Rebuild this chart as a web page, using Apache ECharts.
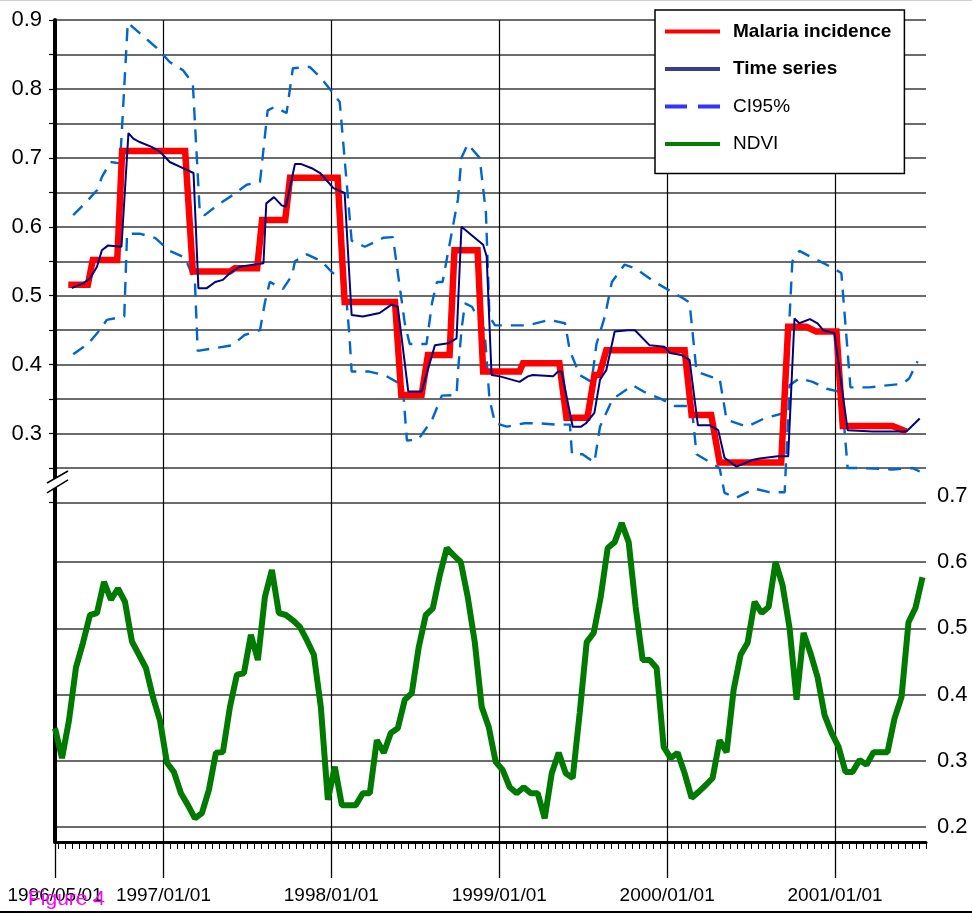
<!DOCTYPE html>
<html>
<head>
<meta charset="utf-8">
<script src="https://cdn.jsdelivr.net/npm/echarts@6/dist/echarts.min.js"></script>
<style>html,body{margin:0;padding:0;background:#fff}#c{width:972px;height:915px}</style>
</head>
<body>
<div id="c"></div>
<script>
// Time unit on the x axis: half-months counted from 1996/05/01 (1997/01/01 = 16, ...)
// NDVI: one value per half-month period, plotted at the middle of each period (k + 0.5)
const ndviValues = [
  0.349,0.304,0.361,0.441,0.478,0.520,0.523,0.570,0.543,0.560,
  0.540,0.480,0.460,0.440,0.396,0.361,0.297,0.283,0.251,0.233,
  0.213,0.221,0.256,0.312,0.313,0.381,0.430,0.432,0.490,0.452,
  0.547,0.588,0.523,0.520,0.512,0.502,0.482,0.460,0.381,0.241,
  0.291,0.233,0.233,0.233,0.251,0.251,0.331,0.312,0.342,0.349,
  0.392,0.402,0.472,0.520,0.530,0.580,0.621,0.610,0.600,0.547,
  0.479,0.381,0.351,0.298,0.286,0.260,0.251,0.260,0.251,0.251,
  0.213,0.281,0.312,0.281,0.274,0.372,0.479,0.493,0.547,0.621,
  0.630,0.659,0.630,0.532,0.452,0.452,0.440,0.321,0.304,0.312,
  0.281,0.244,0.253,0.263,0.274,0.331,0.313,0.407,0.460,0.478,
  0.540,0.523,0.532,0.600,0.565,0.500,0.392,0.493,0.462,0.426,
  0.369,0.342,0.321,0.283,0.283,0.301,0.294,0.313,0.313,0.313,
  0.364,0.396,0.509,0.531,0.577
];

// Malaria incidence (red)
const malariaT = [2.4,5.2,5.9,9.4,10.1,19.1,20.2,25.5,26.2,29.4,30.1,33.4,34.1,40.9,41.9,49.1,50.0,52.9,53.8,56.9,57.6,60.9,61.7,66.9,67.4,72.6,73.6,76.6,77.6,78.3,79.3,90.5,91.5,94.3,95.5,104.3,105.3,107.9,109.3,112.2,113.1,120.2,122.2];
const malariaV = [0.516,0.516,0.552,0.552,0.710,0.710,0.535,0.535,0.540,0.540,0.610,0.610,0.671,0.671,0.491,0.491,0.356,0.356,0.414,0.414,0.566,0.566,0.390,0.390,0.402,0.402,0.323,0.323,0.385,0.385,0.421,0.421,0.327,0.327,0.258,0.258,0.455,0.455,0.448,0.448,0.311,0.311,0.303];

// Time series (navy)
const seriesT = [2.9,4.5,5.5,6.5,7.2,8.1,10.0,11.0,11.7,12.6,14.3,15.5,16.9,18.8,20.3,21.0,22.2,23.4,24.5,25.5,26.9,28.8,30.3,30.7,31.8,32.9,33.5,34.8,35.7,37.2,38.4,40.3,41.9,42.9,44.5,46.9,48.6,49.5,51.0,52.9,54.8,56.7,57.9,58.6,61.7,62.2,62.9,64.1,66.9,68.1,68.8,71.7,72.4,72.9,74.5,75.7,76.4,77.6,78.4,79.3,80.5,82.4,83.4,85.5,87.6,88.4,90.0,91.2,92.4,94.1,95.3,96.2,97.9,100.3,101.2,103.8,105.3,106.2,106.9,108.4,109.5,110.3,111.9,113.8,117.4,122.2,124.1];
const seriesV = [0.511,0.518,0.525,0.542,0.566,0.573,0.571,0.736,0.728,0.723,0.716,0.709,0.694,0.685,0.678,0.511,0.511,0.520,0.523,0.533,0.542,0.545,0.547,0.634,0.643,0.631,0.629,0.691,0.691,0.685,0.678,0.656,0.649,0.472,0.470,0.475,0.487,0.484,0.361,0.361,0.428,0.431,0.438,0.600,0.574,0.557,0.385,0.383,0.375,0.383,0.385,0.383,0.390,0.390,0.310,0.310,0.315,0.330,0.378,0.392,0.448,0.450,0.450,0.428,0.426,0.417,0.414,0.407,0.312,0.312,0.305,0.265,0.252,0.262,0.264,0.267,0.267,0.467,0.460,0.466,0.460,0.450,0.446,0.305,0.303,0.303,0.322];

// CI95% upper and lower bounds (dashed blue)
const ciUpperT = [3.1,4.8,6.5,7.2,8.4,9.8,10.9,13.4,15.1,16.9,18.8,20.2,21.2,21.9,23.8,25.9,27.9,29.8,30.9,31.9,33.6,34.5,36.9,38.4,40.1,41.2,42.9,44.8,47.4,48.8,50.5,51.2,53.6,54.4,55.1,55.9,58.1,58.6,59.5,61.2,62.1,62.6,63.4,68.1,71.2,73.4,74.1,75.5,77.2,77.9,79.1,80.1,81.9,83.4,86.2,90.5,91.2,92.2,94.4,95.5,96.5,99.4,101.9,104.8,105.9,106.9,108.8,110.8,112.9,114.2,116.9,119.4,121.6,122.6,123.8];
const ciUpperV = [0.617,0.634,0.653,0.672,0.694,0.692,0.896,0.874,0.859,0.839,0.827,0.808,0.620,0.617,0.632,0.646,0.661,0.665,0.769,0.774,0.765,0.830,0.832,0.817,0.796,0.781,0.580,0.571,0.584,0.585,0.460,0.430,0.430,0.490,0.520,0.520,0.640,0.700,0.720,0.700,0.620,0.470,0.457,0.457,0.465,0.460,0.420,0.385,0.375,0.430,0.470,0.520,0.545,0.540,0.520,0.495,0.490,0.390,0.382,0.380,0.320,0.310,0.322,0.330,0.550,0.565,0.555,0.545,0.533,0.367,0.367,0.370,0.372,0.380,0.405];
const ciLowerT = [3.1,5.2,6.9,7.9,10.4,10.8,12.6,14.8,16.9,19.1,20.5,20.9,23.4,25.8,27.6,29.8,30.5,31.2,33.1,34.4,34.8,36.5,38.6,40.2,41.9,42.6,42.9,45.4,47.6,50.2,50.5,50.8,52.4,54.4,55.8,57.9,58.1,58.6,59.1,60.1,61.9,62.6,63.4,65.1,67.6,69.5,72.2,74.1,74.4,75.9,77.6,78.4,80.2,83.1,84.8,87.2,89.1,91.5,92.2,95.5,96.2,97.9,100.5,102.6,104.8,105.5,106.9,108.8,110.8,112.9,113.8,115.1,120.2,123.1,124.1];
const ciLowerV = [0.415,0.430,0.450,0.465,0.470,0.590,0.590,0.584,0.565,0.555,0.520,0.420,0.424,0.428,0.443,0.450,0.490,0.520,0.510,0.530,0.550,0.560,0.550,0.533,0.526,0.440,0.390,0.390,0.385,0.370,0.330,0.290,0.291,0.320,0.355,0.356,0.390,0.450,0.489,0.484,0.450,0.350,0.315,0.310,0.315,0.315,0.313,0.313,0.270,0.270,0.258,0.310,0.350,0.370,0.360,0.350,0.340,0.340,0.270,0.250,0.214,0.207,0.220,0.215,0.215,0.370,0.380,0.375,0.365,0.360,0.250,0.250,0.248,0.250,0.245];

// Axis ticks and labels
const leftTicks = [0.2,0.25,0.3,0.35,0.4,0.45,0.5,0.55,0.6,0.65,0.7,0.75,0.8,0.85,0.9];
const leftLabels = [0.3,0.4,0.5,0.6,0.7,0.8,0.9];
const ndviTicks = [0.2,0.3,0.4,0.5,0.6];
const ndviLabels = [0.2,0.3,0.4,0.5,0.6,0.7];
const dateTickPos = [0.5,16,40,64,88,112];
const dateTickLabels = ['1996/05/01','1997/01/01','1998/01/01','1999/01/01','2000/01/01','2001/01/01'];
const halfMonthBoundaries = [];
for (let b = 1; b <= 125; b++) halfMonthBoundaries.push(b);

const FONT = 'Liberation Sans, Arial, sans-serif';
const zip = (t, v) => t.map((x, i) => [x, v[i]]);
const DASH_ICON = 'path://M0,0H22V4H0Z M33,0H55V4H33Z';

const chart = echarts.init(document.getElementById('c'), null, {renderer: 'canvas'});

const option = {
  animation: false,
  backgroundColor: '#fff',
  textStyle: {fontFamily: FONT},
  title: {
    text: 'Figure 4', left: 23, top: 884, z: 20,
    textStyle: {color: '#ff00ff', fontSize: 21, fontWeight: 'normal', fontFamily: FONT}
  },
  grid: {left: 55, right: 46, top: 20, bottom: 73, containLabel: false, outerBoundsMode: 'none'},
  legend: {
    orient: 'vertical', left: 655, top: 10,
    padding: [12, 13, 20, 10],
    itemWidth: 55, itemHeight: 4, itemGap: 18.5,
    backgroundColor: '#fff', borderColor: '#000', borderWidth: 1.5, borderRadius: 0,
    textStyle: {fontSize: 19, color: '#000', fontFamily: FONT, padding: [0, 0, 0, 8]},
    data: [
      {name: 'Malaria incidence', icon: 'rect', textStyle: {fontWeight: 'bold'}, itemStyle: {color: '#ff0000'}},
      {name: 'Time series', icon: 'rect', textStyle: {fontWeight: 'bold'}, itemStyle: {color: '#3c3c8c'}},
      {name: 'CI95%', icon: DASH_ICON, itemStyle: {color: '#3333ff'}},
      {name: 'NDVI', icon: 'rect', itemStyle: {color: '#008000'}}
    ]
  },
  xAxis: [
    {
      type: 'value', min: 0.5, max: 125, position: 'bottom',
      axisLine: {show: true, onZero: false, lineStyle: {color: '#000', width: 3}},
      axisTick: {show: true, customValues: halfMonthBoundaries, length: 7, lineStyle: {color: '#000', width: 1}},
      axisLabel: {show: false},
      splitLine: {show: false}
    },
    {
      type: 'value', min: 0.5, max: 125, position: 'bottom',
      axisLine: {show: false, onZero: false},
      axisTick: {show: true, customValues: dateTickPos, length: 36, lineStyle: {color: '#000', width: 1.3}},
      axisLabel: {
        show: true, customValues: dateTickPos, showMinLabel: true, showMaxLabel: true,
        margin: 44, fontSize: 19, color: '#000', fontFamily: FONT,
        formatter: v => {
          const i = dateTickPos.findIndex(p => Math.abs(p - v) < 1e-6);
          return i >= 0 ? dateTickLabels[i] : '';
        }
      },
      splitLine: {show: true, lineStyle: {color: '#000', width: 1.2}}
    }
  ],
  yAxis: [
    {
      type: 'value', position: 'left', min: -0.2925, max: 0.9,
      axisLine: {show: true, onZero: false, lineStyle: {color: '#000', width: 4}},
      axisTick: {show: true, customValues: leftTicks, length: 6, lineStyle: {color: '#000', width: 1.2}},
      axisLabel: {
        show: true, customValues: leftLabels, margin: 13, fontSize: 22, color: '#000', fontFamily: FONT,
        formatter: v => v.toFixed(1)
      },
      splitLine: {show: true, lineStyle: {color: '#3a3a3a', width: 1.5}}
    },
    {
      type: 'value', position: 'right', min: 0.17736, max: 1.41811,
      axisLine: {show: false, onZero: false},
      axisTick: {show: false, customValues: ndviTicks},
      axisLabel: {
        show: true, customValues: ndviLabels, margin: 11, fontSize: 22, color: '#000', fontFamily: FONT,
        formatter: v => v.toFixed(1)
      },
      splitLine: {show: true, lineStyle: {color: '#3a3a3a', width: 1.5}}
    }
  ],
  series: [
    {
      name: 'CI95%', type: 'line', xAxisIndex: 0, yAxisIndex: 0, symbol: 'none', z: 3,
      data: zip(ciUpperT, ciUpperV),
      lineStyle: {color: '#0066cc', width: 2.4, type: [13, 9]}, itemStyle: {color: '#3333ff'}
    },
    {
      name: 'CI95%', type: 'line', xAxisIndex: 0, yAxisIndex: 0, symbol: 'none', z: 3,
      data: zip(ciLowerT, ciLowerV),
      lineStyle: {color: '#0066cc', width: 2.4, type: [13, 9]}, itemStyle: {color: '#3333ff'}
    },
    {
      name: 'Malaria incidence', type: 'line', xAxisIndex: 0, yAxisIndex: 0, symbol: 'none', z: 4,
      data: zip(malariaT, malariaV),
      lineStyle: {color: '#ff0000', width: 6.5, join: 'miter'}, itemStyle: {color: '#ff0000'}
    },
    {
      name: 'Time series', type: 'line', xAxisIndex: 0, yAxisIndex: 0, symbol: 'none', z: 5,
      data: zip(seriesT, seriesV),
      lineStyle: {color: '#000080', width: 2}, itemStyle: {color: '#3c3c8c'}
    },
    {
      name: 'NDVI', type: 'line', xAxisIndex: 0, yAxisIndex: 1, symbol: 'none', z: 4,
      data: ndviValues.map((v, k) => [k + 0.5, v]),
      lineStyle: {color: '#007a00', width: 6}, itemStyle: {color: '#008000'}
    }
  ]
};
chart.setOption(option);

// Axis-break mark on the left axis and the page frame lines
const breakValue = 0.2298;
const ax = chart.convertToPixel({xAxisIndex: 0}, 0.5);
const by = chart.convertToPixel({yAxisIndex: 0}, breakValue);
chart.setOption({
  graphic: [
    {type: 'polygon', z: 50, shape: {points: [[ax - 8, by + 1], [ax + 13, by - 11], [ax + 13, by - 2], [ax - 8, by + 11]]}, style: {fill: '#fff'}},
    {type: 'line', z: 51, shape: {x1: ax - 8, y1: by + 1, x2: ax + 13, y2: by - 11}, style: {stroke: '#000', lineWidth: 1.5}},
    {type: 'line', z: 51, shape: {x1: ax - 8, y1: by + 11, x2: ax + 13, y2: by - 2}, style: {stroke: '#000', lineWidth: 1.5}},
    {type: 'line', z: 51, shape: {x1: 0, y1: 0.5, x2: 972, y2: 0.5}, style: {stroke: '#d0d0d0', lineWidth: 1}},
    {type: 'line', z: 51, shape: {x1: 0, y1: 912, x2: 972, y2: 912}, style: {stroke: '#000', lineWidth: 2}}
  ]
});
</script>
</body>
</html>
